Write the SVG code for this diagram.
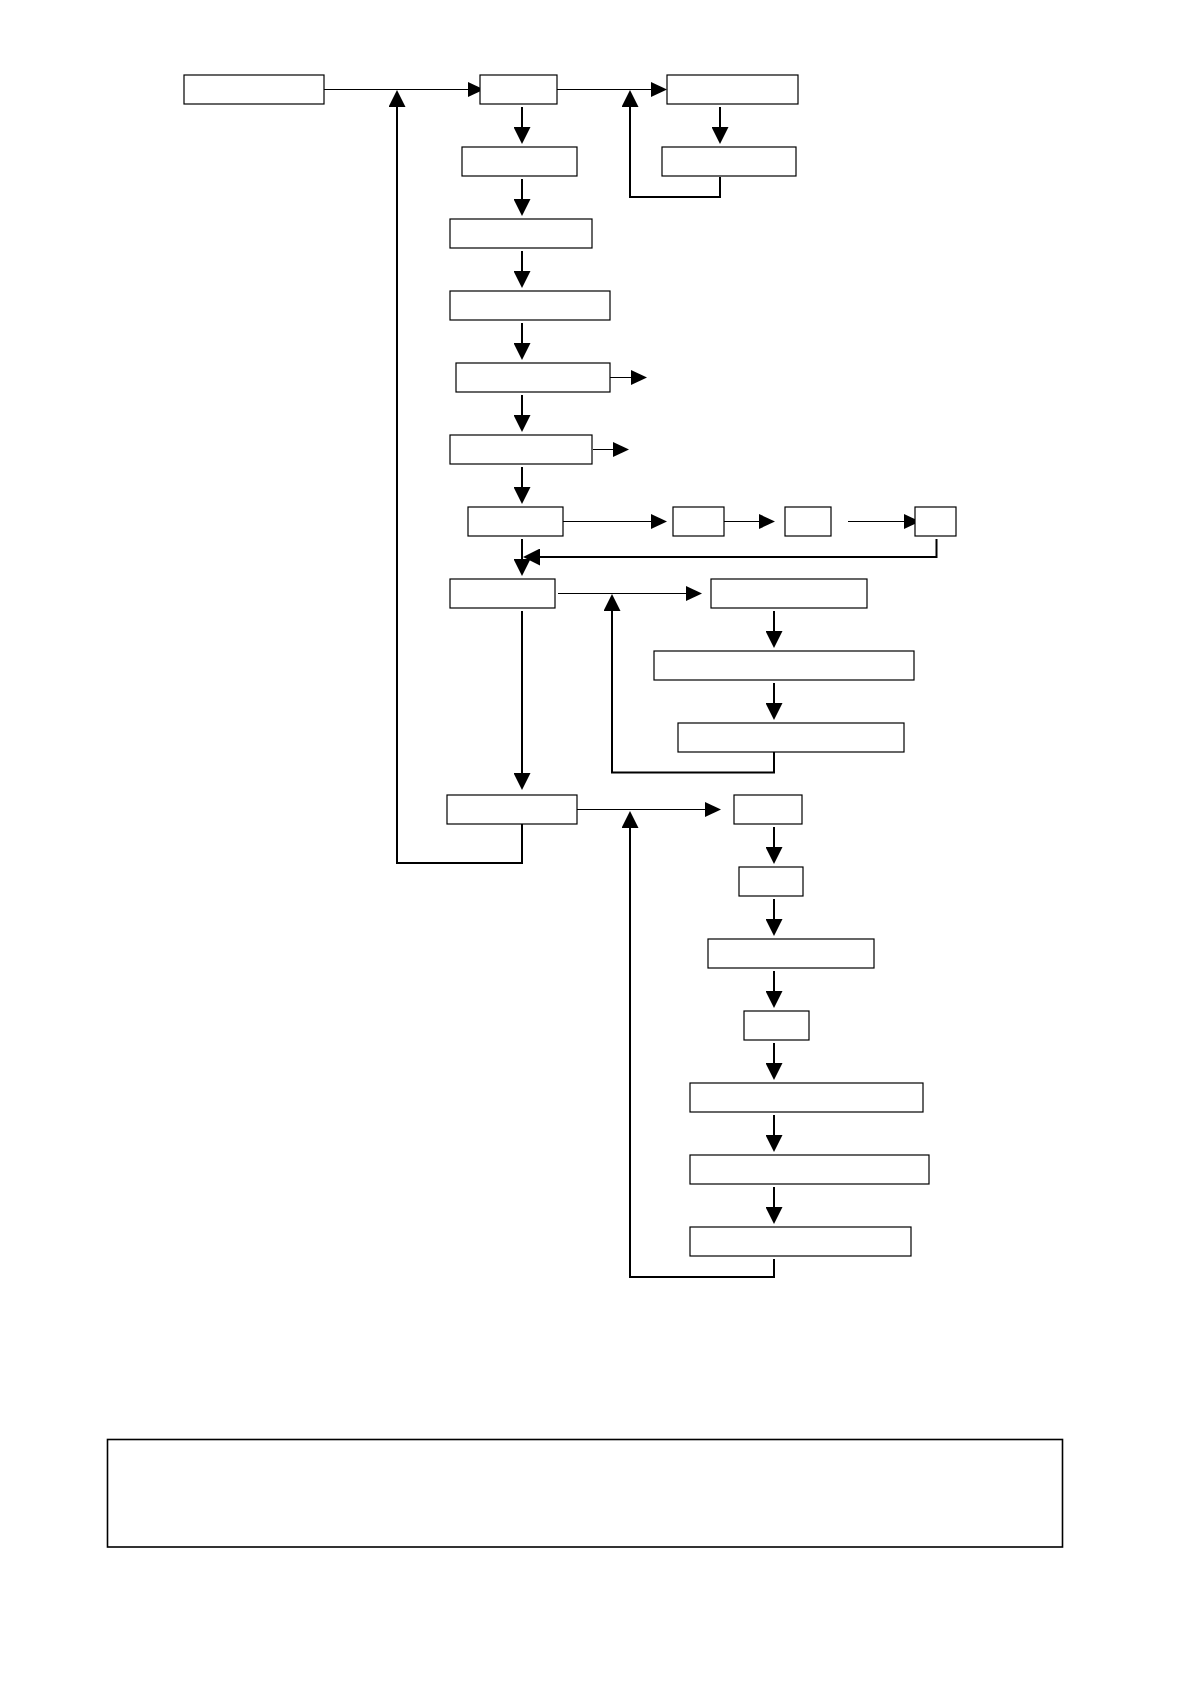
<svg xmlns="http://www.w3.org/2000/svg" width="1190" height="1684" viewBox="0 0 1190 1684">
<style>
.n rect{fill:#fff;stroke:#000;stroke-width:1.2}
.c path{fill:none;stroke:#000}
.c .t{stroke-width:1.2;marker-end:url(#as)}
.c .k{stroke-width:2;marker-end:url(#ah)}
</style>
<defs>
<marker id="ah" markerUnits="userSpaceOnUse" markerWidth="17" markerHeight="17" refX="14" refY="8.5" orient="auto"><path d="M0,0 L17,8.5 L0,17 z" fill="#000"/></marker>
<marker id="as" markerUnits="userSpaceOnUse" markerWidth="16" markerHeight="15" refX="13" refY="7.5" orient="auto"><path d="M0,0 L16,7.5 L0,15 z" fill="#000"/></marker>
</defs>
<rect width="1190" height="1684" fill="#fff"/>
<g class="c" id="connectors">
<path class="t" d="M324,89.5 H481"/>
<path class="t" d="M557,89.5 H664"/>
<path class="k" d="M522,824 V863 H397 V93"/>
<path class="k" d="M720,177 V197 H630 V93"/>
<path class="k" d="M720,107 V141"/>
<path class="k" d="M522,107 V141"/>
<path class="k" d="M522,179 V213"/>
<path class="k" d="M522,251 V285"/>
<path class="k" d="M522,323 V357"/>
<path class="k" d="M522,395 V429"/>
<path class="t" d="M610,377.5 H644"/>
<path class="t" d="M593,449.5 H626"/>
<path class="k" d="M522,467 V501"/>
<path class="t" d="M559,521.5 H664"/>
<path class="t" d="M721,521.5 H772"/>
<path class="t" d="M848,521.5 H917"/>
<path class="k" d="M936.5,539 V557 H526"/>
<path class="k" d="M522,539 V573"/>
<path class="t" d="M558,593.5 H699"/>
<path class="k" d="M774,611 V645"/>
<path class="k" d="M774,683 V717"/>
<path class="k" d="M774,752 V772.5 H612 V597"/>
<path class="k" d="M522,611 V787"/>
<path class="t" d="M577,809.5 H718"/>
<path class="k" d="M774,827 V861"/>
<path class="k" d="M774,899 V933"/>
<path class="k" d="M774,971 V1005"/>
<path class="k" d="M774,1043 V1077"/>
<path class="k" d="M774,1115 V1149"/>
<path class="k" d="M774,1187 V1221"/>
<path class="k" d="M774,1259 V1277 H630 V814"/>
</g>
<g class="n" id="nA"><rect x="184" y="75" width="140" height="29"/></g>
<g class="n" id="nB"><rect x="480" y="75" width="77" height="29"/></g>
<g class="n" id="nC"><rect x="667" y="75" width="131" height="29"/></g>
<g class="n" id="nD"><rect x="662" y="147" width="134" height="29"/></g>
<g class="n" id="nE"><rect x="462" y="147" width="115" height="29"/></g>
<g class="n" id="nF"><rect x="450" y="219" width="142" height="29"/></g>
<g class="n" id="nG"><rect x="450" y="291" width="160" height="29"/></g>
<g class="n" id="nH"><rect x="456" y="363" width="154" height="29"/></g>
<g class="n" id="nI"><rect x="450" y="435" width="142" height="29"/></g>
<g class="n" id="nJ"><rect x="468" y="507" width="95" height="29"/></g>
<g class="n" id="nK"><rect x="673" y="507" width="51" height="29"/></g>
<g class="n" id="nL"><rect x="785" y="507" width="46" height="29"/></g>
<g class="n" id="nM"><rect x="915" y="507" width="41" height="29"/></g>
<g class="n" id="nN"><rect x="450" y="579" width="105" height="29"/></g>
<g class="n" id="nO"><rect x="711" y="579" width="156" height="29"/></g>
<g class="n" id="nP"><rect x="654" y="651" width="260" height="29"/></g>
<g class="n" id="nQ"><rect x="678" y="723" width="226" height="29"/></g>
<g class="n" id="nR"><rect x="447" y="795" width="130" height="29"/></g>
<g class="n" id="nS"><rect x="734" y="795" width="68" height="29"/></g>
<g class="n" id="nT"><rect x="739" y="867" width="64" height="29"/></g>
<g class="n" id="nU"><rect x="708" y="939" width="166" height="29"/></g>
<g class="n" id="nV"><rect x="744" y="1011" width="65" height="29"/></g>
<g class="n" id="nW"><rect x="690" y="1083" width="233" height="29"/></g>
<g class="n" id="nX"><rect x="690" y="1155" width="239" height="29"/></g>
<g class="n" id="nY"><rect x="690" y="1227" width="221" height="29"/></g>
<g class="n" id="nBig"><rect x="107.5" y="1439.5" width="955" height="107.5" style="stroke-width:1.6"/></g>
</svg>
